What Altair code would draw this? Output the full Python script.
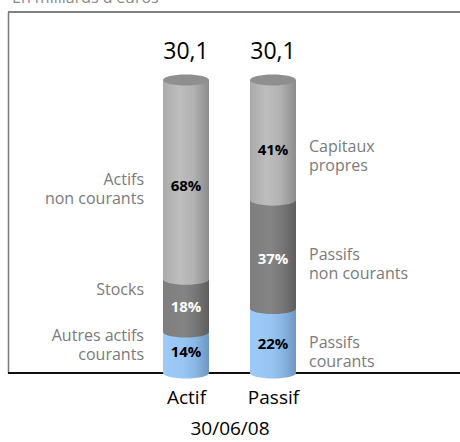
import altair as alt
import pandas as pd

# ---- data ----
bars = ["Actif", "Actif", "Actif", "Passif", "Passif", "Passif"]
segments = ["Autres actifs courants", "Stocks", "Actifs non courants",
            "Passifs courants", "Passifs non courants", "Capitaux propres"]
levels = [0, 1, 2, 0, 1, 2]
pcts = [14, 18, 68, 22, 37, 41]
pct_labels = ["14%", "18%", "68%", "22%", "37%", "41%"]
pct_label_pos = [7.2, 22.5, 63.8, 10.0, 39.0, 76.0]

side_text = ["Autres actifs\ncourants", "Stocks", "Actifs\nnon courants",
             "Passifs\ncourants", "Passifs\nnon courants", "Capitaux\npropres"]
side_pos = [12.6, 28.3, 65.9, 10.2, 40.3, 77.1]

totals_bar = ["Actif", "Passif"]
totals_text = ["30,1", "30,1"]
totals_pos = [109.6, 109.6]

# ---- build tables ----
rows = []
acc = {}
for b, s, l, p, pl, pp, st, sp in zip(bars, segments, levels, pcts, pct_labels,
                                      pct_label_pos, side_text, side_pos):
    start = acc.get(b, 0)
    rows.append(dict(bar=b, segment=s, level=l, pct=p, start=start, end=start + p,
                     plabel=pl, ppos=pp, side=st, spos=sp))
    acc[b] = start + p
df = pd.DataFrame(rows)
tot = pd.DataFrame(dict(bar=totals_bar, text=totals_text, pos=totals_pos))

W, H = 452, 361
FONT = "Open Sans"
xscale = alt.Scale(type="point", domain=["Actif", "Passif"], range=[178, 265],
                   padding=0)
yscale = alt.Scale(domain=[0, 123.2], nice=False, zero=True)

def grad(stops):
    return alt.LinearGradient(
        gradient="linear", x1=0, x2=1, y1=0, y2=0,
        stops=[alt.GradientStop(offset=o, color=c) for o, c in stops])

gradients = {
    0: grad([(0, "#9dcaf8"), (0.45, "#98c5f3"), (0.7, "#8ab6e4"), (1, "#6f97c2")]),
    1: grad([(0, "#7e7e7e"), (0.45, "#848484"), (0.7, "#777777"), (1, "#5e5e5e")]),
    2: grad([(0, "#ababab"), (0.35, "#bdbdbd"), (0.65, "#b3b3b3"), (1, "#8c8c8c")]),
}
cap_color = "#8f8f8f"
ELLIPSE = "M -1 0 A 1 0.24 0 1 0 1 0 A 1 0.24 0 1 0 -1 0 Z"
ESIZE = 46 * 46

X = alt.X("bar:N", scale=xscale, title="30/06/08",
          axis=alt.Axis(orient="bottom", domain=False,
                        ticks=False, labelFontSize=19, labelColor="#000000",
                        labelFont=FONT, labelPadding=15, labelAngle=0,
                        titleFont=FONT, titleFontSize=19, titleFontWeight="normal",
                        titleColor="#000000", titlePadding=12))
Xn = alt.X("bar:N", scale=xscale)

frame_bottom = alt.Chart(tot).mark_rule(color="#000000", strokeWidth=1.5).encode(
    y=alt.value(H), x=alt.value(0), x2=alt.value(W))
top_rule = alt.Chart(tot).mark_rule(color="#7a7a7a", strokeWidth=1.5).encode(
    y=alt.value(0), x=alt.value(0), x2=alt.value(W))

layers = [frame_bottom, top_rule]
for L in [0, 1, 2]:
    sub = alt.Chart(df).transform_filter(alt.datum.level == L)
    if L == 0:
        bar = sub.mark_bar(size=46, color=gradients[L]).encode(
            x=X,
            y=alt.Y("start:Q", scale=yscale,
                    axis=alt.Axis(domainColor="#7a7a7a", domainWidth=1.5, ticks=False,
                                  labels=False, grid=False, title=None)),
            y2="end:Q")
    else:
        bar = sub.mark_bar(size=46, color=gradients[L]).encode(
            x=Xn, y=alt.Y("start:Q", scale=yscale), y2="end:Q")
    ell = sub.mark_point(shape=ELLIPSE, size=ESIZE, filled=True, opacity=1,
                         strokeWidth=0, color=gradients[L]).encode(
        x=Xn, y=alt.Y("start:Q", scale=yscale))
    layers += [bar, ell]

cap = alt.Chart(df).transform_filter(alt.datum.level == 2).mark_point(
    shape=ELLIPSE, size=ESIZE, filled=True, opacity=1, strokeWidth=0,
    color=cap_color).encode(x=Xn, y=alt.Y("end:Q", scale=yscale))

pct_text = alt.Chart(df).mark_text(font=FONT, fontSize=15, fontWeight="bold",
                                   baseline="middle").encode(
    x=Xn, y=alt.Y("ppos:Q", scale=yscale), text="plabel:N",
    color=alt.Color("level:N", scale=alt.Scale(domain=[0, 1, 2],
                    range=["#000000", "#ffffff", "#000000"]), legend=None))

left_side = alt.Chart(df).transform_filter(alt.datum.bar == "Actif").mark_text(
    font=FONT, fontSize=16, color="#7b7b7b", align="right", baseline="middle",
    dx=-42, lineBreak="\n", lineHeight=19).encode(
    x=Xn, y=alt.Y("spos:Q", scale=yscale), text="side:N")

right_side = alt.Chart(df).transform_filter(alt.datum.bar == "Passif").mark_text(
    font=FONT, fontSize=16, color="#7b7b7b", align="left", baseline="middle",
    dx=36, lineBreak="\n", lineHeight=19).encode(
    x=Xn, y=alt.Y("spos:Q", scale=yscale), text="side:N")

totals = alt.Chart(tot).mark_text(font=FONT, fontSize=23, color="#000000",
                                  baseline="middle").encode(
    x=Xn, y=alt.Y("pos:Q", scale=yscale), text="text:N")

title_txt = alt.Chart(tot).transform_filter(alt.datum.bar == "Actif").mark_text(
    font=FONT, fontSize=16, color="#8a8a8a", align="left",
    baseline="alphabetic").encode(
    x=alt.value(4), y=alt.value(-9), text=alt.value("En milliards d'euros"))

chart = alt.layer(*layers, cap, pct_text, left_side, right_side, totals,
                  title_txt).properties(
    width=W, height=H,
    autosize=alt.AutoSizeParams(type="none"),
    padding={"left": 8, "top": 12, "right": 0, "bottom": 69},
).configure_view(stroke=None)

chart.save("out.html", embed_options={"renderer": "svg", "actions": False})
